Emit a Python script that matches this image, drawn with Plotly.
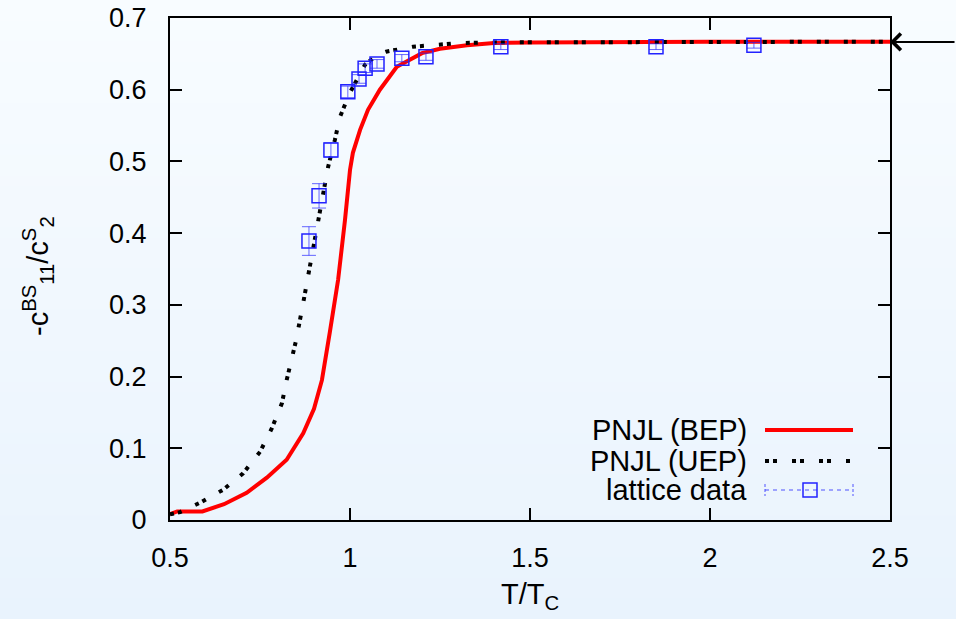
import plotly.graph_objects as go

# ---------------- data ----------------
bep_x = [0.5, 0.52, 0.59, 0.65, 0.713, 0.769, 0.824, 0.87, 0.9, 0.922, 0.944, 0.967,
         0.986, 1.0, 1.008, 1.028, 1.05, 1.083, 1.13, 1.2, 1.25, 1.325, 1.4, 1.5, 2.0, 2.5]
bep_y = [0.008, 0.012, 0.012, 0.022, 0.038, 0.059, 0.084, 0.121, 0.155, 0.195, 0.262, 0.335,
         0.418, 0.488, 0.512, 0.544, 0.572, 0.6, 0.632, 0.651, 0.657, 0.662, 0.665, 0.666, 0.667, 0.667]

uep_x = [0.5, 0.528, 0.583, 0.647, 0.703, 0.75, 0.783, 0.811, 0.824, 0.85, 0.869, 0.883,
         0.897, 0.911, 0.925, 0.939, 0.958, 0.972, 1.0, 1.028, 1.042, 1.078, 1.10, 1.153,
         1.175, 1.228, 1.3, 1.4, 2.0, 2.5]
uep_y = [0.008, 0.011, 0.024, 0.042, 0.065, 0.095, 0.128, 0.163, 0.195, 0.25, 0.3, 0.339,
         0.377, 0.414, 0.456, 0.492, 0.53, 0.562, 0.596, 0.623, 0.635, 0.649, 0.653, 0.658,
         0.66, 0.662, 0.665, 0.666, 0.667, 0.667]

lat_x = [0.886, 0.914, 0.947, 0.994, 1.025, 1.042, 1.075, 1.144, 1.211, 1.419, 1.85, 2.122]
lat_y = [0.389, 0.452, 0.516, 0.597, 0.615, 0.630, 0.636, 0.644, 0.646, 0.660, 0.660, 0.662]
lat_err = [0.02, 0.017, 0.01, 0.008, 0.006, 0.006, 0.006, 0.005, 0.005, 0.004, 0.004, 0.004]

limit_value = 2.0 / 3.0
legend_names = ["PNJL (BEP)", "PNJL (UEP)", "lattice data"]

# ---------------- styles ----------------
FONT = "Liberation Sans, Arial, sans-serif"
FS = 27
FS_BIG = 29
BLUE = "#2222ff"
W, H = 956, 619
ML, MR, MT, MB = 170, 66, 18, 99
PW, PH = W - ML - MR, H - MT - MB


def px2paper(px, py):
    return (px - ML) / PW, (H - MB - py) / PH


fig = go.Figure()

fig.add_trace(go.Scatter(x=bep_x, y=bep_y, mode="lines",
                         line=dict(color="#ff0000", width=4), showlegend=False))
fig.add_trace(go.Scatter(x=uep_x, y=uep_y, mode="lines",
                         line=dict(color="#000000", width=4, dash="4px,4px,4px,15px"),
                         showlegend=False))
fig.add_trace(go.Scatter(x=lat_x, y=lat_y, mode="markers",
                         marker=dict(symbol="square-open", size=14, color=BLUE,
                                     line=dict(width=1.5, color=BLUE)),
                         error_y=dict(type="data", array=lat_err, visible=True,
                                      color="rgba(40,40,255,0.7)", thickness=1, width=7),
                         showlegend=False))

shapes = []
# gradient background
top = (248, 252, 255)
bot = (233, 243, 253)
n = 60
x0p, _ = px2paper(0, 0)
x1p, _ = px2paper(W, 0)
for i in range(n):
    t = i / (n - 1)
    c = tuple(round(top[k] + (bot[k] - top[k]) * t) for k in range(3))
    _, ya = px2paper(0, H * i / n)
    _, yb = px2paper(0, H * (i + 1) / n + 1)
    shapes.append(dict(type="rect", xref="paper", yref="paper", x0=x0p, x1=x1p,
                       y0=yb, y1=ya, fillcolor="rgb(%d,%d,%d)" % c,
                       line=dict(width=0), layer="below"))

annotations = []
# custom gnuplot-like legend
rows_py = [430, 461, 490]
tx, _ = px2paper(749, 0)
lx0, _ = px2paper(765, 0)
lx1, _ = px2paper(853, 0)
for name, py in zip(legend_names, rows_py):
    _, yy = px2paper(0, py)
    annotations.append(dict(xref="paper", yref="paper", x=tx, y=yy, text=name,
                            showarrow=False, xanchor="right", yanchor="middle",
                            font=dict(family=FONT, size=FS_BIG, color="black")))
_, y0l = px2paper(0, rows_py[0])
shapes.append(dict(type="line", xref="paper", yref="paper", x0=lx0, x1=lx1, y0=y0l, y1=y0l,
                   line=dict(color="#ff0000", width=4)))
_, y1l = px2paper(0, rows_py[1])
shapes.append(dict(type="line", xref="paper", yref="paper", x0=lx0, x1=lx1, y0=y1l, y1=y1l,
                   line=dict(color="#000000", width=4, dash="4px,4px,4px,15px")))
_, y2l = px2paper(0, rows_py[2])
shapes.append(dict(type="line", xref="paper", yref="paper", x0=lx0, x1=lx1, y0=y2l, y1=y2l,
                   line=dict(color="rgba(40,40,255,0.8)", width=1, dash="4px,4px")))
_, cap_a = px2paper(0, rows_py[2] - 6)
_, cap_b = px2paper(0, rows_py[2] + 6)
for xx in (lx0, lx1):
    shapes.append(dict(type="line", xref="paper", yref="paper", x0=xx, x1=xx, y0=cap_a, y1=cap_b,
                       line=dict(color="rgba(40,40,255,0.8)", width=1, dash="3px,2px")))
sx0, sq_a = px2paper(803, rows_py[2] - 7)
sx1, sq_b = px2paper(817, rows_py[2] + 7)
shapes.append(dict(type="rect", xref="paper", yref="paper", x0=sx0, x1=sx1, y0=sq_b, y1=sq_a,
                   line=dict(color=BLUE, width=1.5), fillcolor="rgba(0,0,0,0)"))

# axis titles
xt_x, xt_y = px2paper(530, 596)
annotations.append(dict(xref="paper", yref="paper", x=xt_x, y=xt_y, text="T/T<sub>C</sub>",
                        showarrow=False, xanchor="center", yanchor="middle",
                        font=dict(family=FONT, size=FS_BIG, color="black")))
yt_x, yt_y = px2paper(38, 276)
annotations.append(dict(xref="paper", yref="paper", x=yt_x, y=yt_y,
                        text="-c<sup>BS</sup><sub>11</sub>/c<sup>S</sup><sub>2</sub>",
                        textangle=-90, showarrow=False, xanchor="center", yanchor="middle",
                        font=dict(family=FONT, size=FS_BIG, color="black")))
# limit arrow
annotations.append(dict(xref="x", yref="y", x=2.5, y=limit_value, text="", showarrow=True,
                        ax=68, ay=0, arrowhead=4, arrowsize=1.6, arrowwidth=2,
                        arrowcolor="black", standoff=0))

axis_common = dict(showline=True, linecolor="black", linewidth=2, mirror="ticks",
                   ticks="inside", ticklen=12, tickwidth=2, tickcolor="black",
                   showgrid=False, zeroline=False,
                   tickfont=dict(family=FONT, size=FS, color="black"))

fig.update_layout(
    width=W, height=H,
    margin=dict(l=ML, r=MR, t=MT, b=MB, autoexpand=False),
    paper_bgcolor="rgb(241,248,254)",
    plot_bgcolor="rgba(0,0,0,0)",
    xaxis=dict(range=[0.5, 2.5], dtick=0.5, tick0=0.5, ticklabelstandoff=13, **axis_common),
    yaxis=dict(range=[0, 0.7], dtick=0.1, tick0=0, ticklabelstandoff=16, **axis_common),
    shapes=shapes,
    annotations=annotations,
    showlegend=False,
)

fig.write_html("out.html")
